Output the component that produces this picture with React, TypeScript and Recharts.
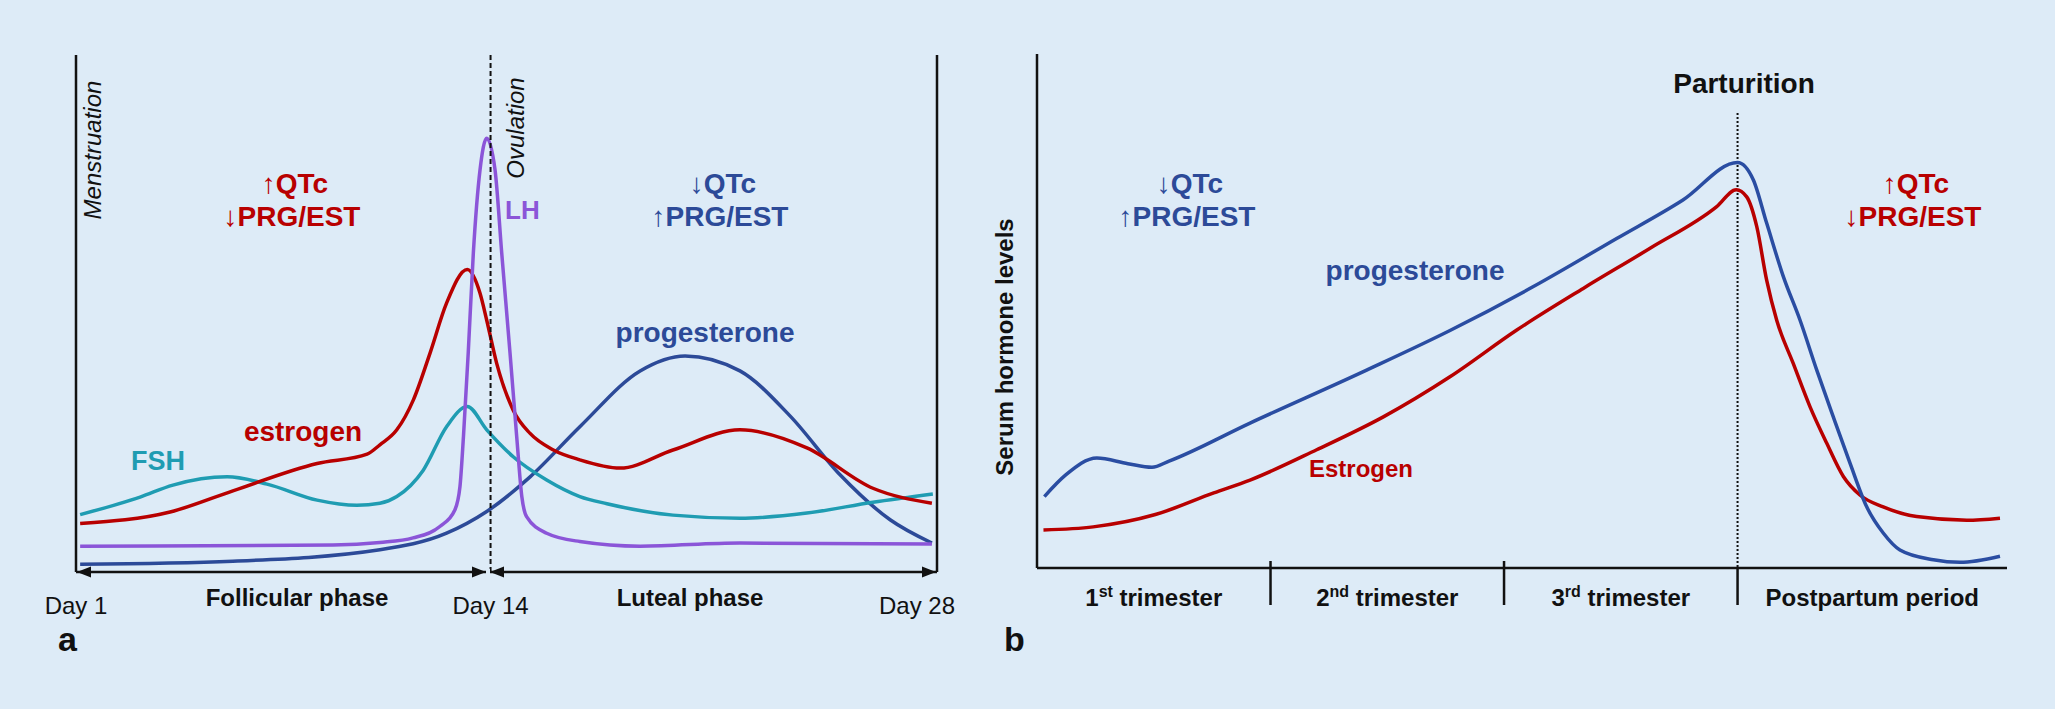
import { LineChart, Line, XAxis, YAxis, ReferenceLine } from 'recharts'

const BG = '#DDEBF7'
const RED = '#B80000'
const BLUE = '#2C4A98'
const TEAL = '#1F9CB2'
const PURPLE = '#8B55D8'
const INK = '#111'
const FONT = '"Liberation Sans", Arial, sans-serif'

// Panel a: menstrual cycle. x = cycle day, y = relative level (0–100)
const cycleDayTicks = [1, 14, 28]
const cycleDayLabels = ['Day 1', 'Day 14', 'Day 28']
const ovulationDay = 14

const fshDays = [1.13, 3.01, 4.04, 5.74, 6.99, 8.56, 9.81, 10.53, 11.06, 11.89, 12.62, 13.27, 13.88, 14.71, 15.76, 16.8, 17.65, 19.72, 21.82, 23.92, 25.99, 27.87]
const fshLevels = [11.1, 14.5, 16.8, 18.4, 17.0, 13.9, 12.9, 13.3, 14.6, 19.7, 28.1, 32.0, 27.5, 22.3, 17.8, 14.6, 13.2, 11.0, 10.4, 11.4, 13.5, 15.1]

const estDays = [1.13, 3.95, 5.92, 8.56, 10.13, 10.53, 11.06, 11.58, 12.1, 12.62, 13.27, 13.67, 13.88, 14.19, 14.71, 15.24, 15.97, 16.8, 18.06, 19.72, 21.82, 23.92, 25.99, 27.84]
const estLevels = [9.4, 11.6, 15.7, 21.0, 22.8, 24.6, 27.5, 33.3, 42.3, 52.0, 58.5, 53.9, 48.7, 40.4, 31.3, 26.8, 23.6, 21.7, 20.1, 23.6, 27.5, 24.0, 16.2, 13.3]

const lhDays = [1.13, 9.06, 10.53, 11.57, 12.41, 12.88, 13.04, 13.15, 13.3, 13.46, 13.67, 13.88, 14.14, 14.35, 14.61, 14.82, 14.98, 15.13, 15.76, 16.8, 18.69, 21.82, 27.84]
const lhLevels = [5.0, 5.2, 5.7, 6.6, 8.8, 12.0, 16.5, 26.2, 42.4, 61.7, 77.8, 83.9, 77.8, 61.7, 42.4, 26.2, 14.6, 10.7, 7.5, 5.9, 5.0, 5.6, 5.4]

const prgDays = [1.13, 5.92, 10.53, 12.62, 13.88, 15.24, 16.8, 18.69, 20.1, 21.82, 23.39, 24.96, 26.53, 27.84]
const prgLevels = [1.5, 2.1, 4.3, 7.5, 11.7, 18.4, 28.1, 38.9, 41.8, 38.9, 30.2, 18.8, 10.1, 5.6]

// Panel b: pregnancy. x = weeks, y = relative serum level (0–100)
const periodBounds = [13, 26, 39]
const periodCenters = [6.5, 19.5, 32.5, 46.5]
const periodLabels = ['1st trimester', '2nd trimester', '3rd trimester', 'Postpartum period']
const parturitionWeek = 39

const pregPrgWeeks = [0.41, 1.6, 3.33, 5.06, 6.4, 7.35, 11.86, 18.35, 22.99, 27.61, 32.27, 35.96, 39.0, 39.88, 40.62, 41.55, 42.48, 43.41, 44.33, 45.26, 46.19, 47.11, 48.04, 49.9, 51.38, 53.61]
const pregPrgLevels = [13.9, 18.1, 21.4, 20.3, 19.6, 20.8, 28.2, 38.5, 46.2, 54.7, 64.1, 71.6, 78.9, 75.5, 67.1, 56.7, 48.2, 38.5, 29.4, 20.4, 11.9, 6.8, 3.5, 1.6, 1.1, 2.3]

const pregEstWeeks = [0.36, 3.13, 6.59, 9.84, 11.86, 15.57, 19.28, 22.99, 26.71, 30.41, 34.13, 37.84, 38.93, 39.51, 40.07, 40.62, 41.18, 42.1, 43.03, 43.96, 44.89, 45.81, 47.11, 48.97, 51.76, 53.61]
const pregEstLevels = [7.4, 8.0, 10.4, 14.6, 17.1, 23.0, 29.4, 37.2, 46.3, 54.4, 62.2, 70.3, 73.6, 72.2, 66.4, 56.0, 48.2, 39.8, 31.4, 24.3, 17.8, 14.2, 11.9, 10.0, 9.3, 9.7]

const zip = (xs: number[], ys: number[]) => xs.map((x, i) => ({ x, v: ys[i] }))

function DayTick({ x, y, payload }: any) {
  const i = cycleDayTicks.indexOf(payload.value)
  const shift = i === cycleDayTicks.length - 1 ? -20 : 0
  return (
    <text x={x + shift} y={y + 42} textAnchor="middle" fontSize={24} fill={INK} fontFamily={FONT}>
      {cycleDayLabels[i]}
    </text>
  )
}

function PeriodTick({ x, y, payload }: any) {
  const v = payload.value
  if (periodBounds.includes(v)) {
    return <line x1={x} x2={x} y1={v === parturitionWeek ? y : y - 7} y2={y + 37} stroke={INK} strokeWidth={2.5} />
  }
  const label = periodLabels[periodCenters.indexOf(v)] ?? ''
  const m = label.match(/^(\d)(st|nd|rd|th)(.*)$/)
  return (
    <text x={x} y={y + 38} textAnchor="middle" fontSize={24} fontWeight="bold" fill={INK} fontFamily={FONT}>
      {m ? (
        <>
          <tspan>{m[1]}</tspan>
          <tspan dy={-9} fontSize={16}>{m[2]}</tspan>
          <tspan dy={9}>{m[3]}</tspan>
        </>
      ) : label}
    </text>
  )
}

function QtcNote({ x, up, color }: { x: number; up: boolean; color: string }) {
  return (
    <g fill={color} fontSize={28} fontWeight="bold">
      <text x={x} y={193} textAnchor="middle">
        <tspan fontWeight="normal">{up ? '↑' : '↓'}</tspan>QTc
      </text>
      <text x={x - 3} y={226} textAnchor="middle">
        <tspan fontWeight="normal">{up ? '↓' : '↑'}</tspan>PRG/EST
      </text>
    </g>
  )
}

const curve = (color: string) => ({
  type: 'monotone' as const,
  dataKey: 'v',
  stroke: color,
  strokeWidth: 3.5,
  dot: false,
  isAnimationActive: false,
})

export default function App() {
  return (
    <div style={{ position: 'absolute', left: 0, top: 0, width: 2055, height: 709, background: BG, fontFamily: FONT, overflow: 'hidden' }}>
      <div style={{ position: 'absolute', left: 0, top: 0 }}>
        <LineChart width={1000} height={709} margin={{ top: 55, right: 63, bottom: 77, left: 76 }}>
          <XAxis
            type="number"
            dataKey="x"
            domain={[1, 28]}
            ticks={cycleDayTicks}
            tick={<DayTick />}
            tickLine={false}
            tickSize={0}
            tickMargin={0}
            height={60}
            axisLine={{ stroke: INK, strokeWidth: 2.5 }}
            allowDataOverflow
          />
          <YAxis type="number" domain={[0, 100]} hide />
          <ReferenceLine x={1} stroke={INK} strokeWidth={2.5} />
          <ReferenceLine x={28} stroke={INK} strokeWidth={2.5} />
          <Line data={zip(prgDays, prgLevels)} {...curve(BLUE)} />
          <Line data={zip(fshDays, fshLevels)} {...curve(TEAL)} />
          <Line data={zip(estDays, estLevels)} {...curve(RED)} />
          <Line data={zip(lhDays, lhLevels)} {...curve(PURPLE)} />
          <ReferenceLine x={ovulationDay} stroke={INK} strokeWidth={2} strokeDasharray="5 3" />
        </LineChart>
      </div>

      <div style={{ position: 'absolute', left: 1000, top: 0 }}>
        <LineChart width={1055} height={709} margin={{ top: 54, right: 48, bottom: 81, left: 37 }}>
          <XAxis
            type="number"
            dataKey="x"
            domain={[0, 54]}
            ticks={[...periodCenters, ...periodBounds].sort((a, b) => a - b)}
            tick={<PeriodTick />}
            tickLine={false}
            tickSize={0}
            tickMargin={0}
            height={60}
            interval={0}
            axisLine={{ stroke: INK, strokeWidth: 2.5 }}
          />
          <YAxis type="number" domain={[0, 100]} hide />
          <ReferenceLine x={0} stroke={INK} strokeWidth={2.5} />
          <ReferenceLine
            segment={[{ x: parturitionWeek, y: 88.5 }, { x: parturitionWeek, y: 0 }]}
            stroke={INK}
            strokeWidth={2}
            strokeDasharray="2 2"
          />
          <Line data={zip(pregEstWeeks, pregEstLevels)} {...curve(RED)} />
          <Line data={zip(pregPrgWeeks, pregPrgLevels)} {...curve('#2A4DA2')} />
        </LineChart>
      </div>

      <svg width={2055} height={709} style={{ position: 'absolute', left: 0, top: 0, pointerEvents: 'none' }} fontFamily={FONT}>
        {/* phase arrows on the cycle axis */}
        <g fill={INK}>
          <polygon points="77,572 91,566.5 91,577.5" />
          <polygon points="486,572 472,566.5 472,577.5" />
          <polygon points="490,572 504,566.5 504,577.5" />
          <polygon points="936,572 922,566.5 922,577.5" />
        </g>
        <rect x={486} y={569} width={4} height={6} fill={BG} />
        <g fontSize={24} fontWeight="bold" fill={INK} textAnchor="middle">
          <text x={297} y={606}>Follicular phase</text>
          <text x={690} y={606}>Luteal phase</text>
        </g>
        <g fontSize={24} fontStyle="italic" fill={INK} textAnchor="middle">
          <text transform="translate(101,150) rotate(-90)">Menstruation</text>
          <text transform="translate(524,128) rotate(-90)">Ovulation</text>
        </g>
        <QtcNote x={295} up={true} color={RED} />
        <QtcNote x={723} up={false} color={BLUE} />
        <g fontWeight="bold">
          <text x={505} y={219} fontSize={26} fill={PURPLE}>LH</text>
          <text x={705} y={342} fontSize={28} fill={BLUE} textAnchor="middle">progesterone</text>
          <text x={303} y={441} fontSize={28} fill={RED} textAnchor="middle">estrogen</text>
          <text x={158} y={470} fontSize={27} fill={TEAL} textAnchor="middle">FSH</text>
        </g>
        <text x={58} y={651} fontSize={34} fontWeight="bold" fill={INK}>a</text>

        {/* panel b annotations */}
        <text x={1744} y={93} fontSize={28} fontWeight="bold" fill={INK} textAnchor="middle">Parturition</text>
        <QtcNote x={1190} up={false} color={BLUE} />
        <QtcNote x={1916} up={true} color={RED} />
        <g fontWeight="bold" textAnchor="middle">
          <text x={1415} y={280} fontSize={28} fill={BLUE}>progesterone</text>
          <text x={1361} y={477} fontSize={24} fill={RED}>Estrogen</text>
          <text transform="translate(1013,347) rotate(-90)" fontSize={24} fill={INK}>Serum hormone levels</text>
        </g>
        <text x={1004} y={651} fontSize={34} fontWeight="bold" fill={INK}>b</text>
      </svg>
    </div>
  )
}
